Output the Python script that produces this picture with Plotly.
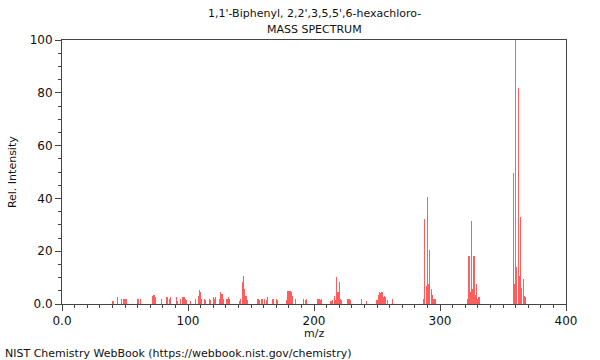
import plotly.graph_objects as go

mz = [40, 41, 44, 47, 49, 50, 51, 60, 61, 62, 72, 73, 74, 79, 83, 84, 85, 86,
      91, 92, 94, 96, 97, 98, 99, 102, 106, 108, 109, 110, 111, 113, 114,
      117, 118, 120, 121, 122, 125, 126, 127, 128, 131, 132, 133,
      141, 142, 143, 144, 145, 146, 147, 155, 156, 157, 158, 159, 161, 162, 163,
      167, 168, 170, 171, 178, 179, 180, 181, 182, 183, 185, 192, 193, 194,
      203, 204, 205, 206, 213, 214, 215, 216, 217, 218, 219, 220, 221, 222,
      227, 228, 229, 238, 242, 250, 251, 252, 253, 254, 255, 256, 257, 258, 262,
      287, 288, 289, 290, 291, 292, 293, 294, 295, 296,
      322, 323, 324, 325, 326, 327, 328, 329, 330, 331,
      358, 359, 360, 361, 362, 363, 364, 365, 366, 367, 368]
intensity = [1.3, 1.3, 2.5, 1.9, 1.9, 1.9, 1.9, 1.9, 1.9, 1.9, 3.0, 3.4, 2.5, 1.9, 2.5, 2.5, 2.0, 2.5,
             2.5, 1.2, 2.0, 2.8, 2.8, 2.0, 1.5, 1.3, 1.9, 3.0, 5.3, 4.5, 2.0, 2.0, 1.5,
             2.0, 1.5, 2.5, 2.0, 2.5, 2.0, 4.4, 3.8, 2.0, 2.0, 2.5, 1.9,
             1.0, 1.9, 8.2, 10.6, 5.7, 3.1, 1.5, 1.9, 1.9, 1.5, 1.9, 1.9, 1.9, 1.5, 2.5,
             1.9, 1.9, 1.9, 1.5, 1.5, 4.8, 5.1, 5.1, 4.4, 3.1, 1.9, 1.9, 1.5, 1.9,
             1.9, 1.9, 1.5, 1.9, 1.0, 1.2, 1.5, 3.0, 1.5, 10.2, 4.4, 8.2, 1.9, 1.5,
             1.9, 1.9, 1.5, 1.9, 1.3, 1.5, 3.5, 4.4, 4.0, 4.4, 2.5, 3.0, 2.5, 1.5, 1.9,
             2.0, 32.2, 7.0, 40.5, 7.5, 20.5, 5.7, 3.4, 2.0, 2.0,
             2.0, 18.2, 4.4, 31.4, 5.8, 18.2, 3.4, 7.6, 2.0, 2.7,
             49.5, 7.6, 100.0, 13.9, 82.0, 10.6, 33.0, 6.0, 9.5, 3.0, 2.5]

x_ticks = [0, 100, 200, 300, 400]
x_tick_labels = ["0.0", "100", "200", "300", "400"]
y_ticks = [0, 20, 40, 60, 80, 100]
y_tick_labels = ["0.0", "20", "40", "60", "80", "100"]

title_line1 = "1,1'-Biphenyl, 2,2',3,5,5',6-hexachloro-"
title_line2 = "MASS SPECTRUM"
footer = "NIST Chemistry WebBook (https://webbook.nist.gov/chemistry)"

FONT = "DejaVu Sans"
AX = "#444444"

fig = go.Figure()
fig.add_trace(go.Bar(x=mz, y=intensity, width=0.9,
                     marker=dict(color="rgba(255,40,40,0.75)", line=dict(width=0)),
                     hoverinfo="x+y"))

fig.update_layout(
    width=600, height=360,
    margin=dict(l=62, r=34, t=40, b=56),
    paper_bgcolor="white", plot_bgcolor="white",
    showlegend=False,
    font=dict(family=FONT, size=12, color="#111111"),
    bargap=0,
)
fig.update_xaxes(range=[0, 400], tickvals=x_ticks, ticktext=x_tick_labels,
                 ticks="outside", ticklen=6, tickcolor=AX, tickwidth=1,
                 showline=True, linecolor=AX, linewidth=1, mirror=True,
                 showgrid=False, zeroline=False,
                 minor=dict(dtick=10, ticks="outside", ticklen=3, tickcolor=AX, showgrid=False),
                 tickfont=dict(family=FONT, size=12, color="#111111"))
fig.update_yaxes(range=[0, 100], tickvals=y_ticks, ticktext=y_tick_labels,
                 ticks="outside", ticklen=6, tickcolor=AX, tickwidth=1,
                 showline=True, linecolor=AX, linewidth=1, mirror=True,
                 showgrid=False, zeroline=False,
                 minor=dict(dtick=5, ticks="outside", ticklen=3, tickcolor=AX, showgrid=False),
                 tickfont=dict(family=FONT, size=12, color="#111111"))

anns = [
    dict(text=title_line1, x=0.5, y=1.102, xref="paper", yref="paper",
         xanchor="center", yanchor="middle", showarrow=False, font=dict(size=11)),
    dict(text=title_line2, x=0.5, y=1.038, xref="paper", yref="paper",
         xanchor="center", yanchor="middle", showarrow=False, font=dict(size=11)),
    dict(text="m/z", x=0.5, y=-0.11, xref="paper", yref="paper",
         xanchor="center", yanchor="middle", showarrow=False, font=dict(size=11)),
    dict(text="Rel. Intensity", x=-0.099, y=0.5, xref="paper", yref="paper",
         xanchor="center", yanchor="middle", textangle=-90, showarrow=False, font=dict(size=11)),
    dict(text=footer, x=-0.117, y=-0.186, xref="paper", yref="paper",
         xanchor="left", yanchor="middle", showarrow=False, font=dict(size=11)),
]
fig.update_layout(annotations=anns)

# remove the page's default 8px body margin so the figure fills the window
fig.write_html("out.html",
               config={"displayModeBar": False},
               post_script="document.body.style.margin='0';document.body.style.padding='0';")
